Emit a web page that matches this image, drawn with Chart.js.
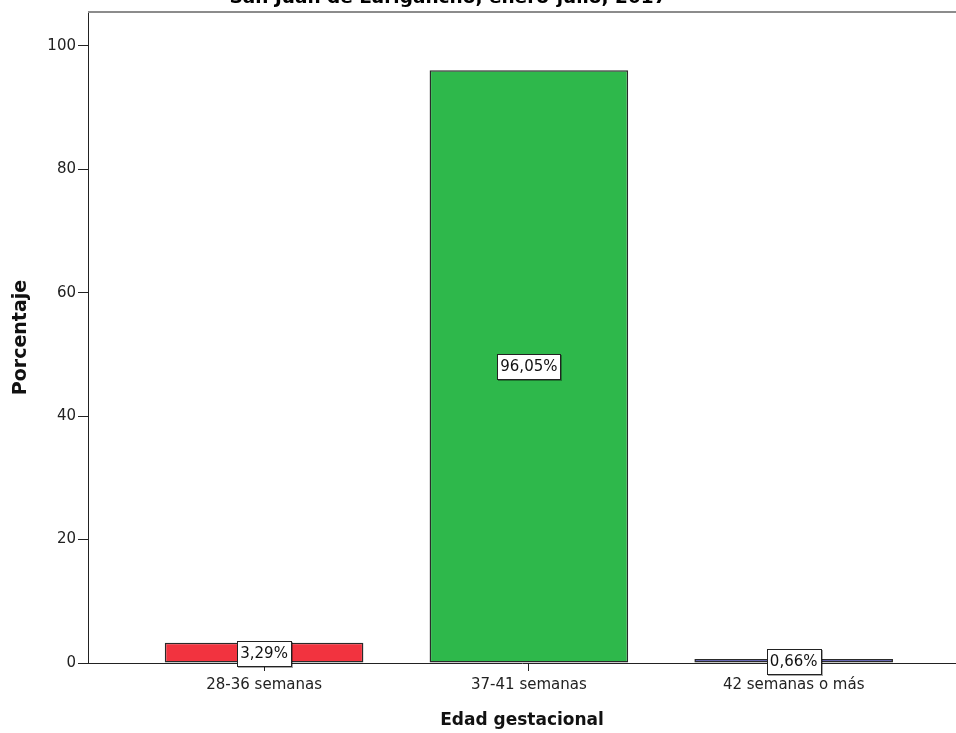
<!DOCTYPE html>
<html>
<head>
<meta charset="utf-8">
<script src="https://cdn.jsdelivr.net/npm/chart.js@4.4.1/dist/chart.umd.min.js"></script>
<style>
  html, body { margin: 0; padding: 0; background: #fff; overflow: hidden; }
  #grafico_edad { display: block; }
</style>
</head>
<body>
<canvas id="grafico_edad" width="956" height="733"></canvas>
<script>
const categorias = ['28-36 semanas', '37-41 semanas', '42 semanas o más'];
const porcentajes = [3.29, 96.05, 0.66];
const etiquetas = ['3,29%', '96,05%', '0,66%'];
const colores = ['#F2333F', '#2EB84B', '#3D3DCB'];
const ticksY = [0, 20, 40, 60, 80, 100];
const titulo = 'San Juan de Lurigancho, enero-julio, 2017';

const fuente = '"DejaVu Sans", Arial, sans-serif';

// titulo cortado arriba y linea gris del marco
const marco = {
    id: 'marco',
    afterDraw(chart) {
        const c = chart.ctx;
        const a = chart.chartArea;
        c.save();
        c.strokeStyle = '#8c8c8c';
        c.lineWidth = 2;
        c.beginPath();
        c.moveTo(a.left, a.top);
        c.lineTo(chart.width, a.top);
        c.stroke();
        c.fillStyle = '#000';
        c.font = 'bold 18.5px ' + fuente;
        c.textAlign = 'center';
        c.textBaseline = 'alphabetic';
        c.fillText(titulo, 448, 3);
        c.restore();
    }
};

// cajas con el porcentaje en el centro de cada barra
const cajas = {
    id: 'cajas',
    afterDatasetsDraw(chart) {
        const c = chart.ctx;
        const meta = chart.getDatasetMeta(0);
        c.save();
        c.font = '15px ' + fuente;
        c.textAlign = 'center';
        c.textBaseline = 'middle';
        meta.data.forEach(function (bar, i) {
            const y = Math.round((bar.y + bar.base) / 2);
            const w = Math.round(c.measureText(etiquetas[i]).width + 6);
            const h = 25;
            const x0 = Math.round(bar.x - w / 2);
            const y0 = Math.round(y - h / 2);
            c.fillStyle = 'rgba(0,0,0,0.35)';
            c.fillRect(x0 + 1, y0 + 1, w + 1, h + 1);
            c.fillStyle = '#fff';
            c.fillRect(x0, y0, w, h);
            c.strokeStyle = '#222';
            c.lineWidth = 1;
            c.strokeRect(x0 + 0.5, y0 + 0.5, w, h);
            c.fillStyle = '#111';
            c.fillText(etiquetas[i], bar.x, y + 1);
        });
        c.restore();
    }
};

const ctx = document.getElementById('grafico_edad');

new Chart(ctx, {
    type: 'bar',
    data: {
        datasets: [{
            data: porcentajes.map(function (v, i) { return { x: i, y: v }; }),
            backgroundColor: colores,
            borderColor: '#2a2a2a',
            borderWidth: 1.5,
            borderSkipped: false,
            barPercentage: 0.75,
            categoryPercentage: 1
        }]
    },
    options: {
        responsive: false,
        animation: false,
        layout: { padding: { top: 12, right: 0, left: 0, bottom: 0 } },
        plugins: {
            legend: { display: false },
            tooltip: { enabled: false }
        },
        scales: {
            x: {
                type: 'linear',
                offset: false,
                min: -0.665,
                max: 2.613,
                afterBuildTicks: function (scale) {
                    scale.ticks = categorias.map(function (n, i) { return { value: i }; });
                },
                afterFit: function (scale) { scale.height = 70; },
                ticks: {
                    callback: function (v) { return categorias[v]; },
                    color: '#222',
                    font: { family: fuente, size: 15 },
                    padding: 5,
                    maxRotation: 0,
                    autoSkip: false
                },
                grid: { offset: false, drawOnChartArea: false, drawTicks: true, tickLength: 8, color: '#222' },
                border: { color: '#222', width: 1 },
                title: {
                    display: true,
                    text: 'Edad gestacional',
                    color: '#111',
                    font: { family: fuente, size: 17, weight: 'bold' },
                    padding: { top: 0, bottom: 2 }
                }
            },
            y: {
                min: 0,
                max: 105.5,
                afterBuildTicks: function (scale) {
                    scale.ticks = ticksY.map(function (v) { return { value: v }; });
                },
                afterFit: function (scale) { scale.width = 88; },
                ticks: {
                    color: '#222',
                    font: { family: fuente, size: 15 },
                    padding: 2
                },
                grid: { drawOnChartArea: false, drawTicks: true, tickLength: 10, color: '#222' },
                border: { color: '#222', width: 1 },
                title: {
                    display: true,
                    text: 'Porcentaje',
                    color: '#111',
                    font: { family: fuente, size: 19, weight: 'bold' },
                    padding: { top: 10, bottom: 0 }
                }
            }
        }
    },
    plugins: [marco, cajas]
});
</script>
</body>
</html>
